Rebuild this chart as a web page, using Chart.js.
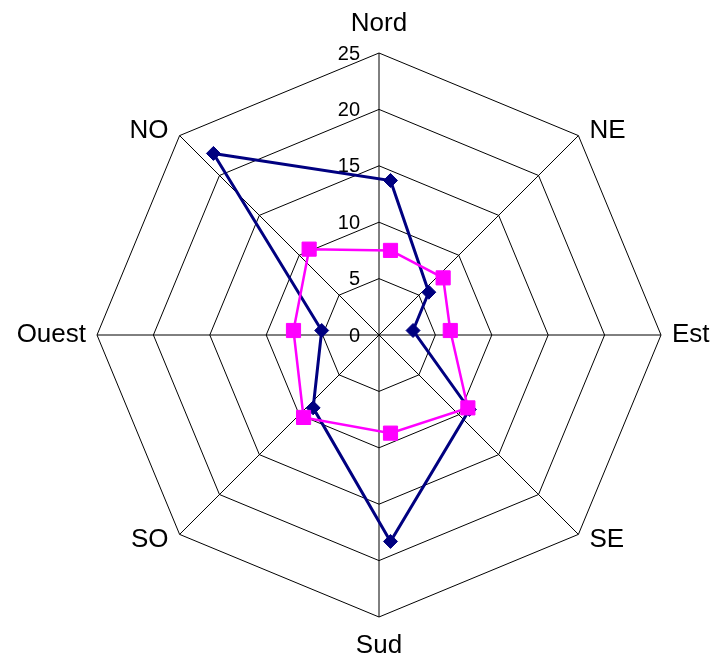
<!DOCTYPE html>
<html><head><meta charset="utf-8">
<script src="https://cdn.jsdelivr.net/npm/chart.js@4.4.1/dist/chart.umd.min.js"></script>
<style>html,body{margin:0;padding:0;background:#fff;} canvas{display:block;}</style>
</head><body>
<canvas id="c" width="715" height="660"></canvas>
<script>
const directions = ['Nord', 'NE', 'Est', 'SE', 'Sud', 'SO', 'Ouest', 'NO'];
const seriesNavy = [13.3, 4.8, 2.0, 9.9, 18.7, 9.7, 6.1, 22.2];
const seriesMagenta = [7.1, 6.6, 5.3, 9.7, 9.1, 10.9, 8.6, 10.2];
const tickValues = [0, 5, 10, 15, 20, 25];
const FONT = 'Arial, "Liberation Sans", sans-serif';

const excelLook = {
  id: 'excelLook',
  beforeDatasetsDraw(chart) {
    const s = chart.scales.r, ctx = chart.ctx;
    ctx.save();
    ctx.font = '20px ' + FONT;
    ctx.fillStyle = '#000';
    ctx.textAlign = 'right';
    ctx.textBaseline = 'middle';
    tickValues.forEach(v => {
      const d = s.getDistanceFromCenterForValue(v);
      ctx.fillText(String(v), s.xCenter - 19, s.yCenter - d + 1);
    });
    ctx.restore();
    // the original rendering draws the series layer slightly shifted
    ctx.save();
    ctx.translate(11.5, -4.5);
  },
  afterDatasetsDraw(chart) {
    chart.ctx.restore();
  },
  afterDraw(chart) {
    const s = chart.scales.r, ctx = chart.ctx;
    ctx.save();
    ctx.font = '26px ' + FONT;
    ctx.fillStyle = '#000';
    ctx.textBaseline = 'middle';
    directions.forEach((lab, i) => {
      const edge = s.getPointPosition(i, s.drawingArea);
      const dx = edge.x - s.xCenter;
      const dy = edge.y - s.yCenter;
      if (Math.abs(dx) < 1) {
        const p = s.getPointPosition(i, s.drawingArea + 29);
        ctx.textAlign = 'center';
        ctx.fillText(lab, p.x, p.y);
      } else {
        const sx = dx > 0 ? 1 : -1;
        const sy = Math.abs(dy) < 1 ? 0 : (dy > 0 ? 1 : -1);
        ctx.textAlign = sx > 0 ? 'left' : 'right';
        ctx.fillText(lab, edge.x + sx * 11, edge.y + sy * 5);
      }
    });
    ctx.restore();
  }
};

new Chart(document.getElementById('c'), {
  type: 'radar',
  data: {
    labels: directions,
    datasets: [
      {
        label: 'Série 1',
        data: seriesNavy,
        borderColor: '#000080',
        backgroundColor: '#000080',
        borderWidth: 3,
        fill: false,
        tension: 0,
        pointStyle: 'rectRot',
        pointRadius: 7,
        pointBorderWidth: 1,
        pointBackgroundColor: '#000080',
        pointBorderColor: '#000080',
        order: 1
      },
      {
        label: 'Série 2',
        data: seriesMagenta,
        borderColor: '#FF00FF',
        backgroundColor: '#FF00FF',
        borderWidth: 2.5,
        fill: false,
        tension: 0,
        pointStyle: 'rect',
        pointRadius: 10,
        pointBorderWidth: 1,
        pointBackgroundColor: '#FF00FF',
        pointBorderColor: '#FF00FF',
        order: 0
      }
    ]
  },
  options: {
    responsive: false,
    devicePixelRatio: 1,
    animation: false,
    events: [],
    layout: { padding: { left: 97, top: 53, right: 54, bottom: 43 } },
    plugins: { legend: { display: false }, tooltip: { enabled: false }, title: { display: false } },
    scales: {
      r: {
        min: 0,
        max: 25,
        ticks: { stepSize: 5, display: false },
        grid: { color: '#000', lineWidth: 1, circular: false },
        angleLines: { color: '#000', lineWidth: 1 },
        pointLabels: { display: false }
      }
    }
  },
  plugins: [excelLook]
});
</script>
</body></html>
